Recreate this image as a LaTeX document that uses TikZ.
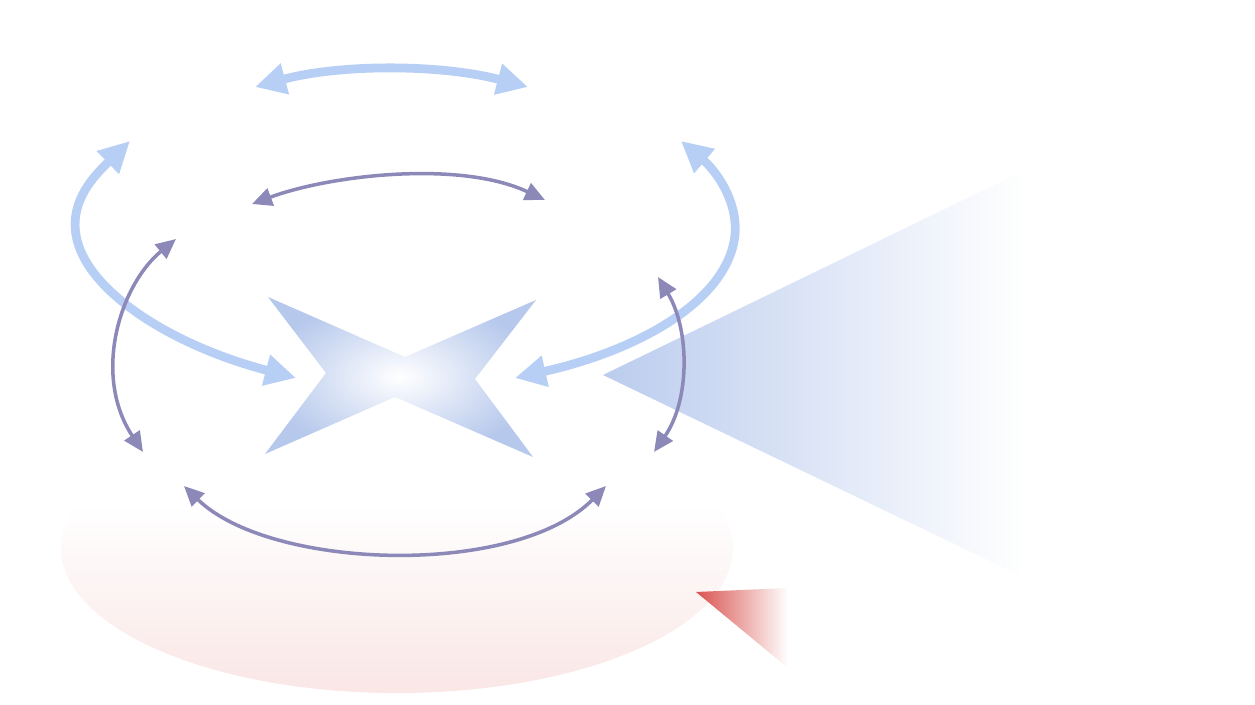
\documentclass[tikz,border=0pt]{standalone}
\usepackage{xcolor}
\usepackage{tikz}
\usetikzlibrary{arrows.meta}

\definecolor{flowblue}{HTML}{B8CFF5}
\definecolor{flowpurple}{HTML}{8C88B8}
\definecolor{starblue}{HTML}{B6C8EC}
\definecolor{coneblue}{HTML}{BBCCEE}
\definecolor{warmred}{HTML}{D9534F}

\begin{document}
\begin{tikzpicture}[
  x=0.02cm, y=-0.02cm,
  >=Triangle,
  bigflow/.style={flowblue, line width=5pt, {Triangle[length=0.62cm, width=0.6cm]}-{Triangle[length=0.62cm, width=0.6cm]}},
  smallflow/.style={flowpurple, line width=2pt, {Triangle[length=0.4cm, width=0.36cm]}-{Triangle[length=0.4cm, width=0.36cm]}},
]
% Canvas
\useasboundingbox (0,0) rectangle (1255,705);

% Base disc (top part fades out)
\begin{scope}
  \clip (397,548) ellipse [x radius=336, y radius=145];
  \shade[top color=white, bottom color=warmred!15, draw=none] (55,505) rectangle (740,700);
\end{scope}

% Cone to the right
\shade[left color=coneblue, right color=white, draw=none]
  (603,375) -- (1025,170) -- (1025,578) -- cycle;

% Small red wedge
\shade[left color=warmred, right color=white, draw=none]
  (696,592) -- (788,588) -- (788,668) -- cycle;

% Central star
\shade[inner color=white, outer color=starblue, draw=none]
  (268,297) -- (405,357) -- (536,300) -- (475,379)
  -- (533,457) -- (395,397) -- (265,454) -- (326,373) -- cycle;

% Outer (light blue) circulation
\draw[bigflow] (255,87) .. controls (340,64) and (440,64) .. (528,87);
\draw[bigflow] (130,141) .. controls (95,175) and (70,200) .. (76,235)
  .. controls (85,290) and (170,345) .. (296,378);
\draw[bigflow] (681,141) .. controls (715,170) and (738,200) .. (735,235)
  .. controls (728,300) and (640,350) .. (515,378);

% Inner (purple) circulation
\draw[smallflow] (252,204) .. controls (330,175) and (460,160) .. (545,200);
\draw[smallflow] (176,239) .. controls (120,285) and (92,375) .. (143,452);
\draw[smallflow] (658,277) .. controls (690,330) and (690,400) .. (654,452);
\draw[smallflow] (184,486) .. controls (270,570) and (515,578) .. (606,486);
\end{tikzpicture}
\end{document}
